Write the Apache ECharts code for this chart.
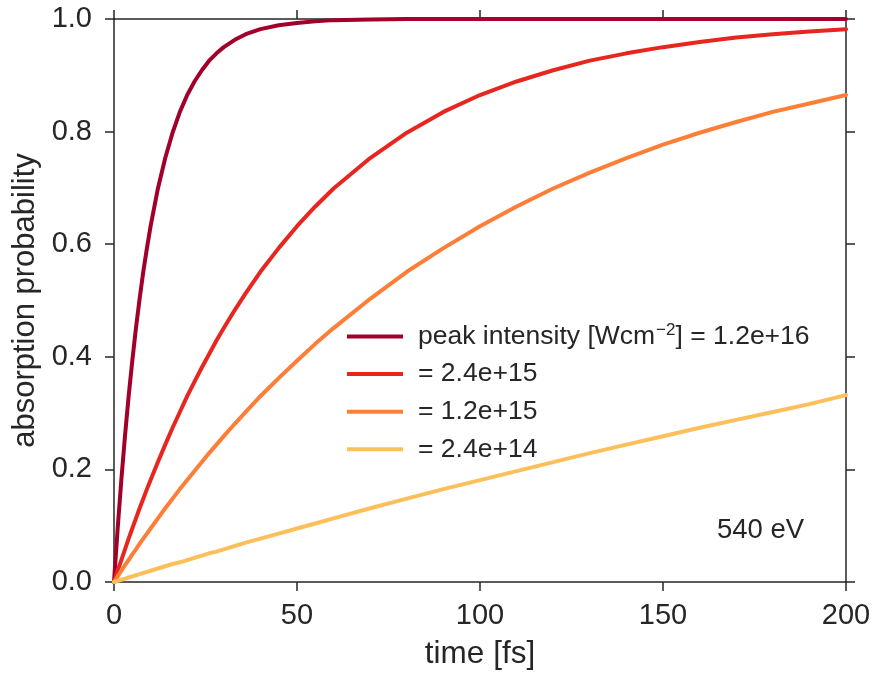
<!DOCTYPE html>
<html>
<head>
<meta charset="utf-8">
<script src="https://cdn.jsdelivr.net/npm/echarts@6/dist/echarts.min.js"></script>
<style>
html,body{margin:0;padding:0;background:#fff;}
#chart{width:875px;height:675px;}
</style>
</head>
<body>
<div id="chart"></div>
<script>
const times = [0,1,2,3,4,5,6,7,8,9,10,12,14,16,18,20,22,24,26,28,30,33,36,40,45,50,55,60,70,80,90,100,110,120,130,140,150,160,170,180,190,200];
const seriesNames = ['peak intensity [Wcm−2] = 1.2e+16', '= 2.4e+15', '= 1.2e+15', '= 2.4e+14'];
const p_1_2e16 = [0,0.095,0.181,0.259,0.330,0.393,0.451,0.503,0.551,0.593,0.632,0.699,0.753,0.798,0.835,0.865,0.889,0.909,0.926,0.939,0.950,0.963,0.973,0.982,0.989,0.993,0.996,0.998,0.999,1.0,1.0,1.0,1.0,1.0,1.0,1.0,1.0,1.0,1.0,1.0,1.0,1.0];
const p_2_4e15 = [0,0.020,0.039,0.058,0.077,0.095,0.113,0.131,0.148,0.165,0.181,0.213,0.244,0.274,0.302,0.330,0.356,0.381,0.405,0.429,0.451,0.483,0.513,0.551,0.593,0.632,0.667,0.699,0.753,0.798,0.835,0.865,0.889,0.909,0.926,0.939,0.950,0.959,0.967,0.973,0.978,0.982];
const p_1_2e15 = [0,0.010,0.020,0.030,0.039,0.049,0.058,0.068,0.077,0.086,0.095,0.113,0.131,0.148,0.165,0.181,0.197,0.213,0.229,0.244,0.259,0.281,0.302,0.330,0.362,0.393,0.423,0.451,0.503,0.551,0.593,0.632,0.667,0.699,0.727,0.753,0.777,0.798,0.817,0.835,0.850,0.865];
const p_2_4e14 = [0,0.002,0.004,0.006,0.008,0.010,0.012,0.014,0.016,0.018,0.020,0.024,0.028,0.032,0.035,0.039,0.043,0.047,0.051,0.054,0.058,0.064,0.070,0.077,0.086,0.095,0.104,0.113,0.131,0.148,0.165,0.181,0.197,0.213,0.229,0.244,0.259,0.274,0.288,0.302,0.316,0.332];
const colors = ['#a2002a', '#e6261f', '#fd7f37', '#fdbf5a'];
const allValues = [p_1_2e16, p_2_4e15, p_1_2e15, p_2_4e14];

const txt = '#262626';
const axisLineStyle = {color: txt, width: 1.5};
const font = 'Liberation Sans, Arial, sans-serif';

const chart = echarts.init(document.getElementById('chart'), null, {renderer: 'canvas'});
const series = allValues.map((vals, i) => ({
  name: seriesNames[i],
  type: 'line',
  xAxisIndex: 0,
  yAxisIndex: 0,
  data: times.map((t, j) => [t, vals[j]]),
  showSymbol: false,
  symbol: 'none',
  smooth: false,
  clip: false,
  lineStyle: {color: colors[i], width: 4, join: 'round', cap: 'round'},
  itemStyle: {color: colors[i]},
  z: 3 + i
}));

chart.setOption({
  backgroundColor: '#fff',
  animation: false,
  textStyle: {fontFamily: font},
  grid: {left: 114, right: 29, top: 19, bottom: 90.5, containLabel: false},
  legend: {
    orient: 'vertical',
    left: 342,
    top: 316.5,
    itemWidth: 56,
    itemHeight: 4,
    itemGap: 7.6,
    icon: 'rect',
    data: seriesNames,
    textStyle: {
      color: txt, fontSize: 26.5, fontFamily: font, lineHeight: 30, padding: [0,0,0,10],
      rich: {
        t: {fontSize: 26.5, color: txt, fontFamily: font, lineHeight: 30},
        s: {fontSize: 17, color: txt, fontFamily: font, verticalAlign: 'top', lineHeight: 20, padding: [0,0,0,1]}
      }
    },
    formatter: function (name) {
      if (name === seriesNames[0]) {
        return '{t|peak intensity [Wcm}{s|−2}{t|] = 1.2e+16}';
      }
      return name;
    }
  },
  xAxis: [{
    type: 'value', min: 0, max: 200, interval: 50, position: 'bottom',
    name: 'time [fs]', nameLocation: 'middle', nameGap: 56,
    nameTextStyle: {color: txt, fontSize: 31.5, fontFamily: font},
    axisLine: {show: true, onZero: false, lineStyle: axisLineStyle},
    axisTick: {show: true, inside: false, length: 9, lineStyle: axisLineStyle},
    axisLabel: {color: txt, fontSize: 29, fontFamily: font, margin: 19},
    splitLine: {show: false}
  }, {
    type: 'value', min: 0, max: 200, interval: 50, position: 'top',
    axisLine: {show: true, onZero: false, lineStyle: axisLineStyle},
    axisTick: {show: true, inside: false, length: 9, lineStyle: axisLineStyle},
    axisLabel: {show: false},
    splitLine: {show: false}
  }],
  yAxis: [{
    type: 'value', min: 0, max: 1, interval: 0.2, position: 'left',
    name: 'absorption probability', nameLocation: 'middle', nameGap: 70,
    nameTextStyle: {color: txt, fontSize: 31, fontFamily: font},
    axisLine: {show: true, onZero: false, lineStyle: axisLineStyle},
    axisTick: {show: true, inside: false, length: 9, lineStyle: axisLineStyle},
    axisLabel: {color: txt, fontSize: 29, fontFamily: font, margin: 22, formatter: v => v.toFixed(1)},
    splitLine: {show: false}
  }, {
    type: 'value', min: 0, max: 1, interval: 0.2, position: 'right',
    axisLine: {show: true, onZero: false, lineStyle: axisLineStyle},
    axisTick: {show: true, inside: false, length: 9, lineStyle: axisLineStyle},
    axisLabel: {show: false},
    splitLine: {show: false}
  }],
  graphic: [{
    type: 'text',
    left: 717,
    top: 516,
    style: {text: '540 eV', fill: txt, fontSize: 27.5, fontFamily: font}
  }],
  series: series
});
</script>
</body>
</html>
